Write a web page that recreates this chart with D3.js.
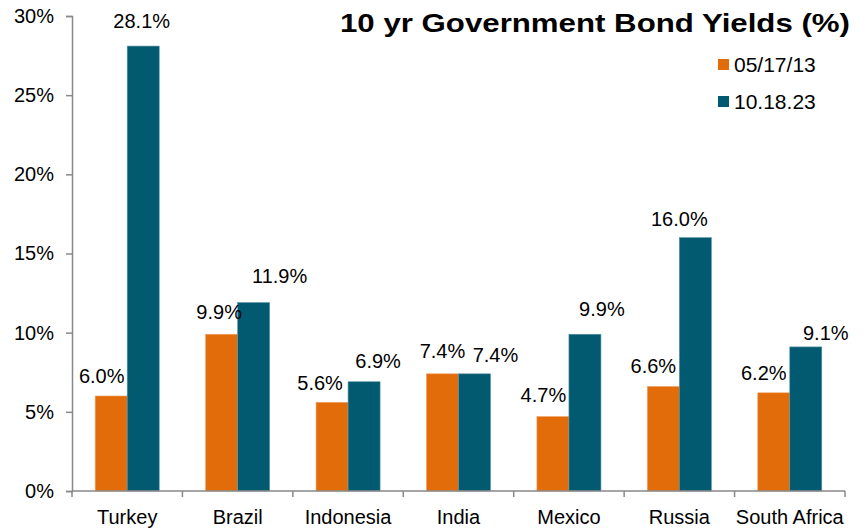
<!DOCTYPE html>
<html>
<head>
<meta charset="utf-8">
<script src="https://cdn.jsdelivr.net/npm/d3@7"></script>
<style>
  body { margin: 0; background: #fff; }
  svg { display: block; font-family: "Liberation Sans", Arial, sans-serif; }
</style>
</head>
<body>
<svg id="chart" width="866" height="532"></svg>
<script>
// data
const countries = ["Turkey", "Brazil", "Indonesia", "India", "Mexico", "Russia", "South Africa"];
const seriesNames = ["05/17/13", "10.18.23"];
const yields2013 = [6.0, 9.9, 5.6, 7.4, 4.7, 6.6, 6.2];
const yields2023 = [28.1, 11.9, 6.9, 7.4, 9.9, 16.0, 9.1];
const yTicks = [0, 5, 10, 15, 20, 25, 30];
const title = "10 yr Government Bond Yields (%)";

const colors = ["#e36c0a", "#025a70"];
const width = 866, height = 532;
const margin = {top: 16, right: 21, bottom: 41, left: 72};

// label nudges (px) so labels sit where the original has them
const labelDx = [[-9.5, -2.5, -12, 0, -9.5, -10, -10], [-1.5, 26, 14, 21, 17, -16, 20]];
const labelLift = [[13, 15, 12, 16, 15, 14, 13], [18, 20, 14, 12, 18, 12, 7]];

const svg = d3.select("#chart");

const x0 = d3.scaleBand(countries, [margin.left, width - margin.right]).padding(0);
const x1 = d3.scaleBand(seriesNames, [0, x0.bandwidth()]).paddingInner(0).paddingOuter(0.725);
const y = d3.scaleLinear([0, 30], [height - margin.bottom, margin.top]);

const rows = countries.map((c, i) => ({
  country: c,
  values: [yields2013[i], yields2023[i]]
}));

// y axis
const yAxis = svg.append("g")
    .attr("transform", `translate(${margin.left},0)`)
    .call(d3.axisLeft(y).tickValues(yTicks).tickFormat(d => d + "%").tickSize(6).tickPadding(12));
yAxis.select(".domain").attr("stroke", "#898989").attr("stroke-width", 1.5);
yAxis.selectAll(".tick line").attr("stroke", "#898989").attr("stroke-width", 1.5);
yAxis.selectAll(".tick text").attr("font-size", 20).attr("fill", "#000")
    .attr("font-family", "Liberation Sans, Arial, sans-serif");

// bars
const groups = svg.append("g").selectAll("g")
  .data(rows)
  .join("g")
    .attr("transform", d => `translate(${x0(d.country)},0)`);

groups.selectAll("rect")
  .data(d => d.values.map((v, s) => ({v, s})))
  .join("rect")
    .attr("x", d => x1(seriesNames[d.s]))
    .attr("y", d => y(d.v))
    .attr("width", x1.bandwidth())
    .attr("height", d => y(0) - y(d.v))
    .attr("fill", d => colors[d.s])
    .attr("stroke", d => d.s === 0 ? "#f0a060" : "#5a94a6")
    .attr("stroke-width", 0.6);

// value labels
groups.selectAll("text")
  .data((d, i) => d.values.map((v, s) => ({v, s, i})))
  .join("text")
    .attr("x", d => x1(seriesNames[d.s]) + x1.bandwidth() / 2 + labelDx[d.s][d.i])
    .attr("y", d => y(d.v) - labelLift[d.s][d.i])
    .attr("text-anchor", "middle")
    .attr("font-size", 20)
    .attr("fill", "#000")
    .text(d => d.v.toFixed(1) + "%");

// x axis
const xAxis = svg.append("g")
    .attr("transform", `translate(0,${y(0)})`);
xAxis.append("line")
    .attr("x1", margin.left).attr("x2", width - margin.right)
    .attr("stroke", "#898989").attr("stroke-width", 1.5);
xAxis.selectAll(".sep")
  .data(countries.concat([null]))
  .join("line")
    .attr("class", "sep")
    .attr("x1", (d, i) => i < countries.length ? x0(d) : x0(countries[countries.length - 1]) + x0.bandwidth())
    .attr("x2", (d, i) => i < countries.length ? x0(d) : x0(countries[countries.length - 1]) + x0.bandwidth())
    .attr("y1", 0).attr("y2", 6)
    .attr("stroke", "#898989").attr("stroke-width", 1.5);
xAxis.selectAll(".cat")
  .data(countries)
  .join("text")
    .attr("class", "cat")
    .attr("x", d => x0(d) + x0.bandwidth() / 2)
    .attr("y", 33)
    .attr("text-anchor", "middle")
    .attr("font-size", 20)
    .attr("fill", "#000")
    .text(d => d);

// title
svg.append("text")
    .attr("x", 340)
    .attr("y", 32)
    .attr("font-size", 26)
    .attr("font-weight", "bold")
    .attr("fill", "#000")
    .attr("textLength", 510)
    .attr("lengthAdjust", "spacingAndGlyphs")
    .text(title);

// legend
const legend = svg.append("g")
  .selectAll("g")
  .data(seriesNames)
  .join("g")
    .attr("transform", (d, i) => `translate(718,${59 + i * 37})`);
legend.append("rect")
    .attr("width", 11).attr("height", 11)
    .attr("fill", (d, i) => colors[i]);
legend.append("text")
    .attr("x", 16)
    .attr("y", 13)
    .attr("font-size", 21)
    .attr("fill", "#000")
    .text(d => d);
</script>
</body>
</html>
